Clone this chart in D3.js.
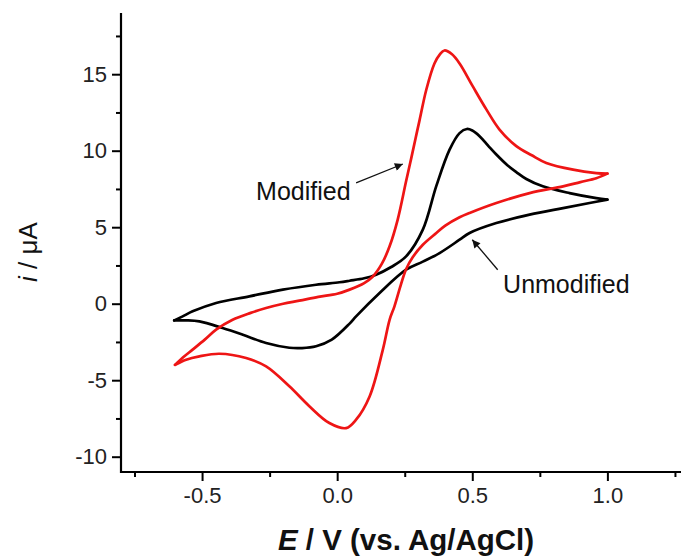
<!DOCTYPE html>
<html>
<head>
<meta charset="utf-8">
<script src="https://cdn.jsdelivr.net/npm/d3@7"></script>
<style>
  html, body { margin: 0; padding: 0; background: #fff; }
  svg { display: block; font-family: "Liberation Sans", Arial, sans-serif; }
</style>
</head>
<body>
<svg id="chart" width="681" height="557"></svg>
<script>
// Cyclic voltammograms: potential E (V vs. Ag/AgCl) and current i (µA)
// Each scan starts at the left vertex, runs anodic to 1.0 V, then returns.

// Modified electrode
const modifiedE = [-0.60, -0.57, -0.535, -0.49, -0.448, -0.387, -0.32, -0.263, -0.20, -0.14, -0.07, 0.0,
  0.046, 0.10, 0.132, 0.165, 0.194, 0.224, 0.255, 0.274, 0.29, 0.305, 0.33, 0.36, 0.38, 0.397, 0.425, 0.453,
  0.502, 0.552, 0.60, 0.663, 0.72, 0.774, 0.873, 0.959, 1.0,
  0.959, 0.90, 0.836, 0.712, 0.589, 0.49, 0.453, 0.40, 0.367, 0.317, 0.28, 0.255, 0.235, 0.212, 0.194,
  0.169, 0.12, 0.07, 0.033, -0.029, -0.103, -0.177, -0.263, -0.337, -0.436, -0.51, -0.559, -0.60];
const modifiedI = [-4.0, -3.5, -3.0, -2.35, -1.70, -1.05, -0.6, -0.28, 0.0, 0.2, 0.45, 0.65,
  0.92, 1.35, 1.78, 2.6, 3.75, 5.5, 8.0, 9.5, 10.8, 12.0, 14.0, 15.7, 16.3, 16.55, 16.3, 15.7,
  14.2, 12.7, 11.4, 10.3, 9.7, 9.2, 8.76, 8.54, 8.5,
  8.2, 7.95, 7.67, 7.23, 6.58, 5.93, 5.65, 5.1, 4.62, 3.85, 3.05, 2.25, 1.2, -0.17, -1.05,
  -3.0, -6.06, -7.58, -8.13, -7.8, -6.7, -5.4, -4.1, -3.55, -3.27, -3.44, -3.66, -4.0];

// Unmodified electrode
const unmodifiedE = [-0.603, -0.572, -0.535, -0.448, -0.325, -0.201, -0.078, 0.0085, 0.046, 0.10, 0.144,
  0.20, 0.255, 0.317, 0.367, 0.416, 0.453, 0.48, 0.50, 0.527, 0.56, 0.589, 0.63, 0.663, 0.70, 0.761, 0.86,
  0.959, 1.0,
  0.934, 0.836, 0.712, 0.589, 0.49, 0.453, 0.379, 0.317, 0.255, 0.157, 0.07, 0.046, -0.02, -0.078,
  -0.13, -0.177, -0.263, -0.349, -0.424, -0.51, -0.559, -0.603];
const unmodifiedI = [-1.09, -0.83, -0.5, 0.05, 0.48, 0.92, 1.24, 1.40, 1.50, 1.66, 1.90,
  2.4, 3.09, 4.84, 7.7, 10.07, 11.15, 11.42, 11.32, 10.95, 10.3, 9.75, 9.05, 8.6, 8.15, 7.67, 7.23,
  6.9, 6.8,
  6.58, 6.25, 5.82, 5.27, 4.62, 4.18, 3.31, 2.75, 2.22, 0.7, -0.83, -1.3, -2.35, -2.78,
  -2.9, -2.88, -2.57, -2.03, -1.59, -1.16, -1.09, -1.09];

const xMajorTicks = [-0.5, 0.0, 0.5, 1.0];
const xMinorTicks = [-0.75, -0.25, 0.25, 0.75, 1.25];
const yMajorTicks = [-10, -5, 0, 5, 10, 15];
const yMinorTicks = [-7.5, -2.5, 2.5, 7.5, 12.5, 17.5];

const series = [
  { name: "Unmodified", E: unmodifiedE, I: unmodifiedI, color: "#000000" },
  { name: "Modified", E: modifiedE, I: modifiedI, color: "#ee1515" }
];

const svg = d3.select("#chart");
const W = 681, H = 557;
const margin = { top: 13, right: 2, bottom: 85, left: 121 };

const x = d3.scaleLinear().domain([-0.8, 1.265]).range([margin.left, W - margin.right]);
const y = d3.scaleLinear().domain([-11, 19]).range([H - margin.bottom, margin.top]);

// Each scan is drawn as a forward and a return branch meeting at the anodic vertex
const line = d3.line()
  .x(d => x(d[0]))
  .y(d => y(d[1]))
  .curve(d3.curveCatmullRom.alpha(0.5));

series.forEach(s => {
  const pts = s.E.map((e, k) => [e, s.I[k]]);
  const v = d3.maxIndex(pts, d => d[0]);
  const forward = pts.slice(0, v + 1);
  const back = pts.slice(v);
  [forward, back].forEach(branch => {
    svg.append("path")
      .datum(branch)
      .attr("fill", "none")
      .attr("stroke", s.color)
      .attr("stroke-width", 2.7)
      .attr("stroke-linejoin", "round")
      .attr("stroke-linecap", "round")
      .attr("d", line);
  });
});

// Axes
const hyphen = f => (d => f(d).replace("\u2212", "-"));
const xAxis = d3.axisBottom(x).tickValues(xMajorTicks).tickFormat(hyphen(d3.format(".1f"))).tickSize(9).tickPadding(6);
const xMinor = d3.axisBottom(x).tickValues(xMinorTicks).tickFormat("").tickSize(5);
const yAxis = d3.axisLeft(y).tickValues(yMajorTicks).tickFormat(hyphen(d3.format("d"))).tickSize(9).tickPadding(5);
const yMinor = d3.axisLeft(y).tickValues(yMinorTicks).tickFormat("").tickSize(5);

function styleAxis(g) {
  g.select(".domain").remove();
  g.selectAll(".tick line").attr("stroke", "#000").attr("stroke-width", 2);
  g.selectAll(".tick text")
    .attr("fill", "#222")
    .style("font-size", "22px")
    .style("font-family", "'Liberation Sans', Arial, sans-serif");
}

const gx = svg.append("g").attr("transform", `translate(0,${y(-11)})`);
gx.call(xAxis).call(styleAxis);
const gxm = svg.append("g").attr("transform", `translate(0,${y(-11)})`);
gxm.call(xMinor).call(styleAxis);

const gy = svg.append("g").attr("transform", `translate(${x(-0.8)},0)`);
gy.call(yAxis).call(styleAxis);
const gym = svg.append("g").attr("transform", `translate(${x(-0.8)},0)`);
gym.call(yMinor).call(styleAxis);

// Axis lines (left and bottom only)
svg.append("line")
  .attr("x1", x(-0.8)).attr("x2", W)
  .attr("y1", y(-11)).attr("y2", y(-11))
  .attr("stroke", "#000").attr("stroke-width", 2.2);
svg.append("line")
  .attr("x1", x(-0.8)).attr("x2", x(-0.8))
  .attr("y1", y(-11) + 1).attr("y2", y(19))
  .attr("stroke", "#000").attr("stroke-width", 2.2);

// Axis titles
const xt = svg.append("text")
  .attr("x", 406).attr("y", 550)
  .attr("text-anchor", "middle")
  .style("font-size", "29.5px")
  .style("font-weight", "bold")
  .attr("fill", "#111");
xt.append("tspan").style("font-style", "italic").text("E");
xt.append("tspan").text(" / V (vs. Ag/AgCl)");

const yt = svg.append("text")
  .attr("transform", `translate(37,252) rotate(-90)`)
  .attr("text-anchor", "middle")
  .style("font-size", "26px")
  .attr("fill", "#111");
yt.append("tspan").style("font-style", "italic").text("i");
yt.append("tspan").text(" / μA");

// Annotations
svg.append("defs").append("marker")
  .attr("id", "arrowhead")
  .attr("viewBox", "0 0 10 10")
  .attr("refX", 10).attr("refY", 5)
  .attr("markerWidth", 10).attr("markerHeight", 8)
  .attr("markerUnits", "userSpaceOnUse")
  .attr("orient", "auto")
  .append("path")
  .attr("d", "M0,0 L10,5 L0,10 z")
  .attr("fill", "#111");

const annotations = [
  { label: "Modified", tx: -0.30, ty: 6.75, from: [0.07, 7.9], to: [0.243, 9.13] },
  { label: "Unmodified", tx: 0.614, ty: 0.70, from: [0.594, 2.22], to: [0.50, 4.18] }
];

annotations.forEach(a => {
  svg.append("text")
    .attr("x", x(a.tx)).attr("y", y(a.ty))
    .style("font-size", "25px")
    .attr("fill", "#111")
    .text(a.label);
  svg.append("line")
    .attr("x1", x(a.from[0])).attr("y1", y(a.from[1]))
    .attr("x2", x(a.to[0])).attr("y2", y(a.to[1]))
    .attr("stroke", "#111").attr("stroke-width", 1.3)
    .attr("marker-end", "url(#arrowhead)");
});
</script>
</body>
</html>
